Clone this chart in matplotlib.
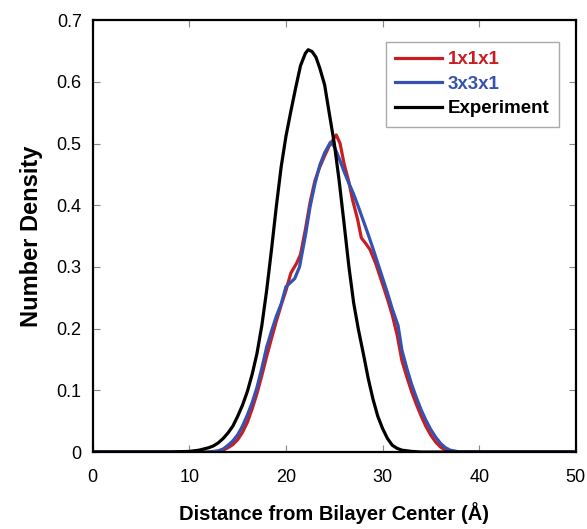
import matplotlib
matplotlib.use("Agg")
import matplotlib.pyplot as plt

plt.rcParams.update({
    "font.family": ["Liberation Sans", "DejaVu Sans"],
    "font.size": 13,
    "xtick.direction": "in",
    "ytick.direction": "in",
    "xtick.top": True,
    "ytick.right": True,
})

# Experiment: number density vs distance (Å)
exp_x = [0, 8, 10, 11, 12, 12.5, 13, 13.5, 14, 14.5, 15, 15.5, 16, 16.5, 17,
         17.5, 18, 18.5, 19, 19.5, 20, 20.5, 21, 21.5, 22, 22.3, 22.7, 23.1,
         23.5, 24, 24.5, 25, 25.5, 26, 26.5, 27, 27.5, 28, 28.5, 29, 29.5, 30,
         30.5, 31, 31.5, 32, 33, 34, 50]
exp_y = [0, 0, 0.001, 0.003, 0.007, 0.010, 0.015, 0.022, 0.031, 0.042, 0.058,
         0.076, 0.098, 0.126, 0.160, 0.205, 0.262, 0.328, 0.398, 0.462, 0.512,
         0.552, 0.590, 0.626, 0.646, 0.652, 0.649, 0.640, 0.622, 0.595, 0.547,
         0.500, 0.440, 0.372, 0.302, 0.242, 0.198, 0.160, 0.120, 0.086, 0.058,
         0.038, 0.022, 0.011, 0.006, 0.003, 0.001, 0, 0]

# 1x1x1 simulation box
r1_x = [0, 12, 13, 13.5, 14, 14.5, 15, 15.5, 16, 16.5, 17, 17.5, 18, 18.5, 19,
        19.5, 20, 20.5, 21.1, 21.5, 22, 22.5, 23, 23.5, 24, 24.5, 25.2, 25.6,
        26, 26.5, 26.9, 27.4, 27.8, 28.3, 28.7, 29.3, 30, 30.5, 31, 31.5, 32,
        32.5, 33, 33.5, 34, 34.5, 35, 35.5, 36, 36.5, 37, 38, 50]
r1_y = [0, 0, 0.001, 0.003, 0.007, 0.012, 0.020, 0.032, 0.048, 0.070, 0.095,
        0.124, 0.155, 0.184, 0.212, 0.238, 0.262, 0.290, 0.306, 0.320, 0.360,
        0.405, 0.440, 0.462, 0.480, 0.497, 0.514, 0.500, 0.468, 0.438, 0.408,
        0.378, 0.347, 0.337, 0.328, 0.305, 0.272, 0.248, 0.222, 0.190, 0.148,
        0.122, 0.098, 0.077, 0.058, 0.041, 0.027, 0.016, 0.008, 0.003, 0.001,
        0, 0]

# 3x3x1 simulation box
r3_x = [0, 12, 13, 13.5, 14, 14.5, 15, 15.5, 16, 16.5, 17, 17.5, 18, 18.5, 19,
        19.5, 20, 20.9, 21.4, 22, 22.5, 23, 23.5, 24, 24.6, 25, 25.5, 26, 26.5,
        27, 27.5, 28, 28.5, 29, 29.5, 30, 30.5, 31, 31.6, 32, 32.5, 33, 33.5,
        34, 34.5, 35, 35.5, 36, 36.5, 37, 38, 50]
r3_y = [0, 0, 0.002, 0.005, 0.011, 0.018, 0.028, 0.042, 0.060, 0.080, 0.105,
        0.136, 0.170, 0.196, 0.220, 0.240, 0.268, 0.281, 0.300, 0.350, 0.398,
        0.435, 0.465, 0.485, 0.502, 0.495, 0.476, 0.455, 0.436, 0.418, 0.397,
        0.375, 0.353, 0.330, 0.306, 0.282, 0.258, 0.232, 0.205, 0.165, 0.136,
        0.110, 0.088, 0.068, 0.051, 0.036, 0.024, 0.014, 0.007, 0.003, 0, 0]

RED = "#c81e23"
BLUE = "#3552b0"

fig = plt.figure(figsize=(5.87, 5.29), dpi=100)
ax = fig.add_axes([0.158, 0.1455, 0.823, 0.8165])

ax.plot(r1_x, r1_y, color=RED, lw=2.3, label="1x1x1")
ax.plot(r3_x, r3_y, color=BLUE, lw=2.3, label="3x3x1")
ax.plot(exp_x, exp_y, color="black", lw=2.3, label="Experiment")

ax.set_xlim(0, 50)
ax.set_ylim(0, 0.7)
ax.set_xticks([0, 10, 20, 30, 40, 50])
ax.set_yticks([0, 0.1, 0.2, 0.3, 0.4, 0.5, 0.6, 0.7])
ax.set_yticklabels(["0", "0.1", "0.2", "0.3", "0.4", "0.5", "0.6", "0.7"])
ax.tick_params(length=5, width=0.8, color="#888888", labelsize=13)
ax.tick_params(axis="x", pad=12)
ax.tick_params(axis="y", pad=8)
for sp in ax.spines.values():
    sp.set_linewidth(1.6)

ax.set_xlabel("Distance from Bilayer Center (Å)", fontsize=14.5,
              fontweight="bold", labelpad=12)
ax.set_ylabel("Number Density", fontsize=17, fontweight="bold", labelpad=10)

leg = ax.legend(loc="upper right", bbox_to_anchor=(0.965, 0.95),
                borderaxespad=0, fontsize=13.5, handlelength=2.5,
                handletextpad=0.3, labelspacing=0.4, fancybox=False,
                framealpha=1, borderpad=0.5)
leg.get_frame().set_edgecolor("#aaaaaa")
leg.get_frame().set_linewidth(1.0)
for txt, line in zip(leg.get_texts(), leg.get_lines()):
    txt.set_color(line.get_color())
    txt.set_fontweight("bold")

fig.savefig("out.png", dpi=100)
